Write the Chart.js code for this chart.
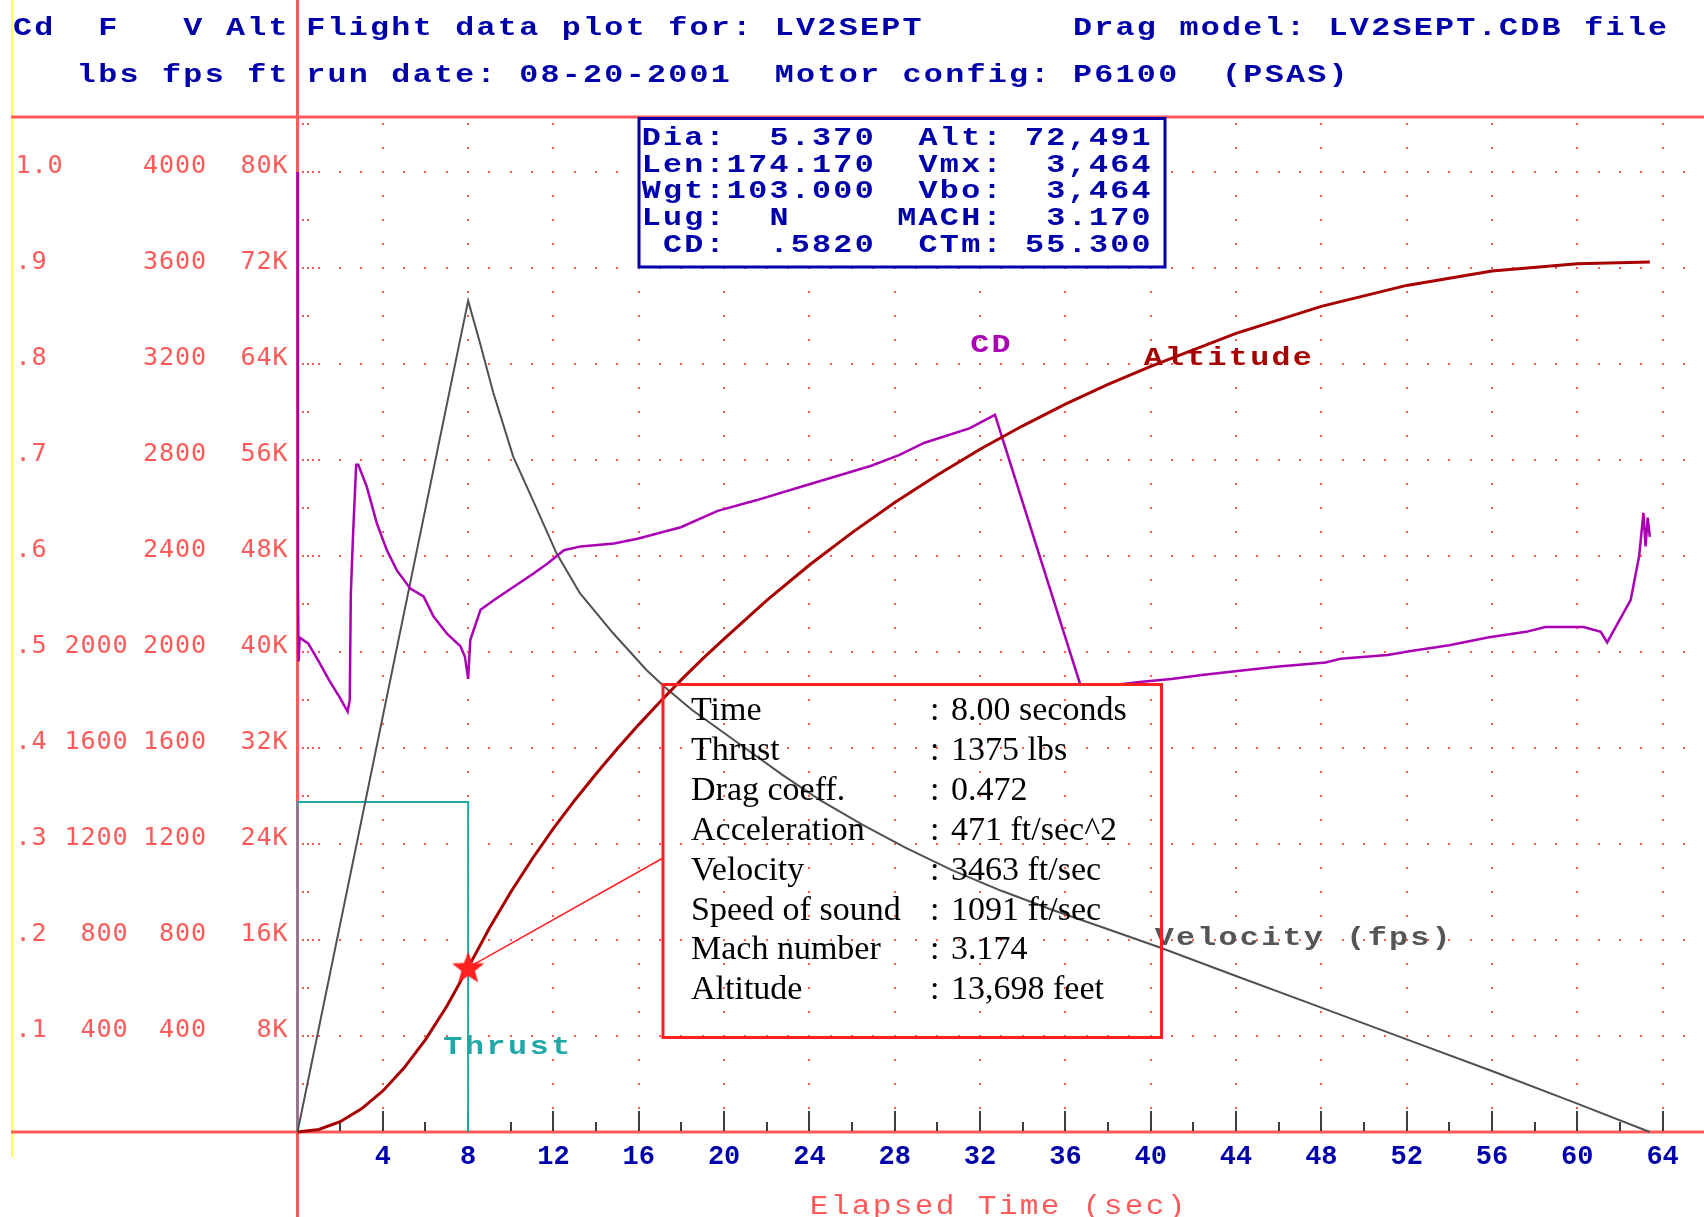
<!DOCTYPE html>
<html>
<head>
<meta charset="utf-8">
<title>Flight data plot for: LV2SEPT</title>
<script src="https://cdn.jsdelivr.net/npm/chart.js@4.4.1/dist/chart.umd.min.js"></script>
<style>
  html, body { margin: 0; padding: 0; background: #fff; }
  canvas { display: block; }
</style>
</head>
<body>
<canvas id="plot" width="1704" height="1217"></canvas>
<script>
// ---- values ----
const cdTime = [0, 0.02, 0.05, 0.1, 0.5, 1.0, 1.5, 2.0, 2.35, 2.45, 2.5, 2.6, 2.75, 2.85, 3.25, 3.72, 4.19,
  4.66, 5.29, 5.91, 6.38, 7.01, 7.64, 7.85, 8.0, 8.1, 8.58, 9.2, 10.14, 11.08, 11.71, 12.49, 13.28, 14.84,
  15.94, 17.97, 19.7, 21.5, 23.3, 25.1, 26.9, 28.2, 29.4, 31.5, 32.7, 36.7, 38.4, 39.6, 40.97, 42.4, 43.96,
  46.0, 48.2, 48.9, 51.1, 52.2, 54.0, 55.8, 57.6, 58.5, 60.3, 61.1, 61.4, 61.9, 62.5, 62.9, 63.1, 63.2, 63.3, 63.4];
const cdValue = [1.0, 0.582, 0.49, 0.515, 0.509, 0.49, 0.47, 0.452, 0.438, 0.45, 0.56, 0.62, 0.695, 0.695, 0.672,
  0.634, 0.606, 0.585, 0.566, 0.558, 0.537, 0.519, 0.506, 0.495, 0.472, 0.5125, 0.544, 0.554, 0.568, 0.582,
  0.592, 0.606, 0.61, 0.613, 0.618, 0.63, 0.647, 0.658, 0.67, 0.682, 0.694, 0.705, 0.718, 0.733, 0.747, 0.466,
  0.466, 0.469, 0.472, 0.476, 0.48, 0.485, 0.489, 0.493, 0.497, 0.501, 0.507, 0.515, 0.521, 0.526, 0.526,
  0.521, 0.51, 0.53, 0.554, 0.6, 0.645, 0.61, 0.64, 0.62];

const velTime = [0, 8, 8.55, 9.18, 10.11, 11.05, 12.15, 13.24, 14.8, 16.36, 17.2, 18.5, 20.9, 22.7, 24.5,
  26.5, 28.5, 30.66, 33, 35.4, 37.9, 40.4, 44, 48, 52, 56, 60, 63.4];
const velValue = [0, 3464, 3290, 3080, 2815, 2630, 2410, 2245, 2078, 1925, 1855, 1758, 1605, 1490, 1383,
  1280, 1185, 1092, 1005, 925, 848, 770, 650, 518, 386, 254, 118, 0];

const altTime = [0, 1, 2, 3, 4, 5, 6, 7, 8, 9, 10, 11, 12, 13, 14, 15, 16, 17, 18, 19, 20, 22, 24, 26, 28,
  30, 32, 34, 36, 38, 40, 44, 48, 52, 56, 60, 63.4];
const altValue = [0, 215, 855, 1925, 3425, 5350, 7700, 10480, 13698, 17000, 20000, 22750, 25300, 27650,
  29850, 31950, 33950, 35850, 37700, 39450, 41100, 44300, 47250, 49950, 52450, 54750, 56900, 58850, 60650,
  62300, 63800, 66550, 68800, 70550, 71750, 72350, 72491];

const thrustTime = [0, 0, 8, 8];
const thrustValue = [0, 1375, 1375, 0];

const markerTime = [8];
const markerAlt = [13698];

const cdTickValues = [0.1, 0.2, 0.3, 0.4, 0.5, 0.6, 0.7, 0.8, 0.9, 1.0];
const cdTickLabels = ['.1', '.2', '.3', '.4', '.5', '.6', '.7', '.8', '.9', '1.0'];
const thrustTickValues = [400, 800, 1200, 1600, 2000];
const velTickValues = [400, 800, 1200, 1600, 2000, 2400, 2800, 3200, 3600, 4000];
const altTickValues = [8000, 16000, 24000, 32000, 40000, 48000, 56000, 64000, 72000, 80000];

const headerLeft = ['Cd  F   V Alt', '   lbs fps ft'];
const headerRight = ['Flight data plot for: LV2SEPT       Drag model: LV2SEPT.CDB file',
  'run date: 08-20-2001  Motor config: P6100  (PSAS)'];
const summaryLines = [
  'Dia:  5.370  Alt: 72,491',
  'Len:174.170  Vmx:  3,464',
  'Wgt:103.000  Vbo:  3,464',
  'Lug:  N     MACH:  3.170',
  ' CD:  .5820  CTm: 55.300'
];
const readoutLabels = ['Time', 'Thrust', 'Drag coeff.', 'Acceleration', 'Velocity', 'Speed of sound',
  'Mach number', 'Altitude'];
const readoutValues = ['8.00 seconds', '1375 lbs', '0.472', '471 ft/sec^2', '3463 ft/sec', '1091 ft/sec',
  '3.174', '13,698 feet'];

// scale: one Cd unit = 4000 lbs = 4000 fps = 80000 ft
const CD_MAX = 1.0573;
const T_MAX = 65.94;

const MONO = '"Liberation Mono", "DejaVu Sans Mono", monospace';

function pts(xs, ys) {
  return xs.map((t, i) => ({ x: t, y: ys[i] }));
}

// draws text on a fixed character grid, like the old text mode screen
function cellText(ctx, text, x, y, adv, align, stretch) {
  const start = align === 'right' ? x - text.length * adv : x;
  const sx = stretch || 1;
  ctx.textAlign = 'center';
  for (let i = 0; i < text.length; i++) {
    if (text[i] === ' ') continue;
    ctx.save();
    ctx.translate(start + (i + 0.5) * adv, y);
    ctx.scale(sx, 1);
    ctx.fillText(text[i], 0, 0);
    ctx.restore();
  }
}

function makeStar(size, color) {
  const c = document.createElement('canvas');
  c.width = c.height = size;
  const g = c.getContext('2d');
  const R = size / 2, r = R * 0.42;
  g.fillStyle = color;
  g.beginPath();
  for (let i = 0; i < 10; i++) {
    const a = -Math.PI / 2 + i * Math.PI / 5;
    const rad = i % 2 ? r : R;
    g.lineTo(R + rad * Math.cos(a), R + rad * Math.sin(a) + 1);
  }
  g.closePath();
  g.fill();
  return c;
}

const dosPlot = {
  id: 'dosPlot',
  beforeDatasetsDraw(chart) {
    const { ctx, chartArea: a, scales } = chart;
    const x = scales.x, y = scales.y;
    ctx.save();

    // dotted grid
    ctx.fillStyle = '#ff5a5a';
    for (let k = 1; k <= 42; k++) {
      const py = Math.round(y.getPixelForValue(k * 0.025));
      let times = [];
      if (k % 4 === 0) {
        times = [0.25, 0.5, 0.75];
        for (let t = 1; t <= 65; t++) times.push(t);
      } else {
        if (k % 2 === 0) times = [0.25, 0.5];
        for (let t = 4; t <= 64; t += 4) times.push(t);
      }
      times.forEach(t => {
        const px = Math.round(x.getPixelForValue(t));
        ctx.fillRect(px - 1, py - 1, 2, 2);
      });
    }

    // frame lines
    ctx.strokeStyle = '#ffff55';
    ctx.lineWidth = 2;
    ctx.beginPath(); ctx.moveTo(12, 0); ctx.lineTo(12, 1157); ctx.stroke();
    ctx.strokeStyle = '#ff5a5a';
    ctx.lineWidth = 3;
    ctx.beginPath();
    ctx.moveTo(11, a.top); ctx.lineTo(chart.width, a.top);
    ctx.moveTo(11, a.bottom); ctx.lineTo(chart.width, a.bottom);
    ctx.moveTo(a.left, 0); ctx.lineTo(a.left, chart.height);
    ctx.stroke();

    // time ticks on the axis
    ctx.strokeStyle = '#404040';
    ctx.lineWidth = 2;
    ctx.beginPath();
    for (let t = 2; t <= 64; t += 2) {
      const px = Math.round(x.getPixelForValue(t));
      const h = t % 4 === 0 ? 21 : 10;
      ctx.moveTo(px, a.bottom - 1); ctx.lineTo(px, a.bottom - h);
    }
    ctx.stroke();

    // left scale labels: Cd, F, V, Alt
    ctx.fillStyle = '#ff5a5a';
    ctx.font = '24px "DejaVu Sans Mono", monospace';
    ctx.textBaseline = 'alphabetic';
    cdTickValues.forEach((v, i) => {
      cellText(ctx, cdTickLabels[i], 15, y.getPixelForValue(v) + 1, 16, 'left', 1.05);
    });
    thrustTickValues.forEach(v => {
      cellText(ctx, String(v), 128, scales.yF.getPixelForValue(v) + 1, 16, 'right', 1.05);
    });
    velTickValues.forEach(v => {
      cellText(ctx, String(v), 206.5, scales.yV.getPixelForValue(v) + 1, 16, 'right', 1.05);
    });
    altTickValues.forEach(v => {
      cellText(ctx, (v / 1000) + 'K', 288, scales.yAlt.getPixelForValue(v) + 1, 16, 'right', 1.05);
    });

    // header
    ctx.fillStyle = '#0000aa';
    ctx.font = 'bold 26px ' + MONO;
    cellText(ctx, headerLeft[0], 11.8, 35, 21.3, 'left', 1.22);
    cellText(ctx, headerLeft[1], 11.8, 82, 21.3, 'left', 1.22);
    cellText(ctx, headerRight[0], 305, 35, 21.3, 'left', 1.22);
    cellText(ctx, headerRight[1], 305, 82, 21.3, 'left', 1.22);

    ctx.restore();
  },
  afterDatasetsDraw(chart) {
    const { ctx, scales } = chart;
    const x = scales.x;
    ctx.save();
    ctx.textBaseline = 'alphabetic';

    // summary box
    ctx.fillStyle = '#ffffff';
    ctx.fillRect(639, 118, 526, 149);
    ctx.strokeStyle = '#0000aa';
    ctx.lineWidth = 3;
    ctx.strokeRect(639, 118.5, 526, 148.5);
    ctx.fillStyle = '#0000aa';
    ctx.font = 'bold 26px ' + MONO;
    summaryLines.forEach((line, i) => {
      cellText(ctx, line, 640.5, 145 + i * 26.7, 21.3, 'left', 1.22);
    });

    // curve names
    ctx.font = 'bold 26px ' + MONO;
    ctx.fillStyle = '#aa00b4';
    cellText(ctx, 'CD', 969, 352, 21.3, 'left', 1.22);
    ctx.fillStyle = '#a80000';
    cellText(ctx, 'Altitude', 1142.5, 365, 21.3, 'left', 1.22);
    ctx.fillStyle = '#555555';
    cellText(ctx, 'Velocity (fps)', 1153.5, 945, 21.3, 'left', 1.22);
    ctx.fillStyle = '#20a8a8';
    cellText(ctx, 'Thrust', 442, 1054, 21.6, 'left', 1.22);

    // axis title
    ctx.fillStyle = '#ff5a5a';
    ctx.font = '27px ' + MONO;
    cellText(ctx, 'Elapsed Time (sec)', 808.5, 1214, 21, 'left', 1.15);

    // readout box and its leader line
    const sx = x.getPixelForValue(markerTime[0]);
    const sy = scales.yAlt.getPixelForValue(markerAlt[0]);
    ctx.strokeStyle = '#ff2020';
    ctx.lineWidth = 1.5;
    ctx.beginPath(); ctx.moveTo(sx, sy); ctx.lineTo(663, 858); ctx.stroke();
    ctx.lineWidth = 3;
    ctx.strokeRect(663, 684.5, 498.5, 353);

    ctx.fillStyle = '#000000';
    ctx.font = '34px "Liberation Serif", "DejaVu Serif", serif';
    ctx.textAlign = 'left';
    readoutLabels.forEach((lab, i) => {
      const by = 720 + i * 39.9;
      ctx.fillText(lab, 691, by);
      ctx.fillText(':', 930, by);
      ctx.fillText(readoutValues[i], 951, by);
    });

    ctx.restore();
  }
};

const starImg = makeStar(34, '#ff2020');

new Chart(document.getElementById('plot'), {
  type: 'line',
  data: {
    datasets: [
      {
        label: 'Marker', data: pts(markerTime, markerAlt), yAxisID: 'yAlt',
        showLine: false, pointStyle: starImg, pointRadius: 17, clip: false
      },
      {
        label: 'Altitude', data: pts(altTime, altValue), yAxisID: 'yAlt',
        borderColor: '#a80000', borderWidth: 3, pointRadius: 0, clip: false
      },
      {
        label: 'CD', data: pts(cdTime, cdValue), yAxisID: 'y',
        borderColor: '#aa00b4', borderWidth: 2.5, pointRadius: 0, clip: false
      },
      {
        label: 'Velocity (fps)', data: pts(velTime, velValue), yAxisID: 'yV',
        borderColor: '#505050', borderWidth: 2, pointRadius: 0, clip: false
      },
      {
        label: 'Thrust', data: pts(thrustTime, thrustValue), yAxisID: 'yF',
        borderColor: '#20a8a8', borderWidth: 2, pointRadius: 0, clip: false
      }
    ]
  },
  options: {
    responsive: false,
    animation: false,
    events: [],
    layout: { autoPadding: false, padding: { top: 117, left: 0, right: 0, bottom: 0 } },
    elements: { line: { tension: 0, fill: false } },
    plugins: { legend: { display: false }, tooltip: { enabled: false } },
    scales: {
      x: {
        type: 'linear', min: 0, max: T_MAX,
        grid: { display: false, drawTicks: false },
        border: { display: false },
        ticks: {
          stepSize: 4, autoSkip: false, includeBounds: false, maxRotation: 0, padding: 9,
          color: '#0000aa', font: { family: MONO, size: 27, weight: 'bold' },
          callback: v => (v === 0 ? '' : v)
        },
        afterFit: s => { s.height = 85; s.paddingLeft = 0; s.paddingRight = 0; }
      },
      y: {
        position: 'left', min: 0, max: CD_MAX,
        ticks: { display: false }, grid: { display: false }, border: { display: false },
        afterFit: s => { s.width = 297.5; s.paddingTop = 0; s.paddingBottom = 0; }
      },
      yF: { display: false, min: 0, max: CD_MAX * 4000 },
      yV: { display: false, min: 0, max: CD_MAX * 4000 },
      yAlt: { display: false, min: 0, max: CD_MAX * 80000 }
    }
  },
  plugins: [dosPlot]
});
</script>
</body>
</html>
